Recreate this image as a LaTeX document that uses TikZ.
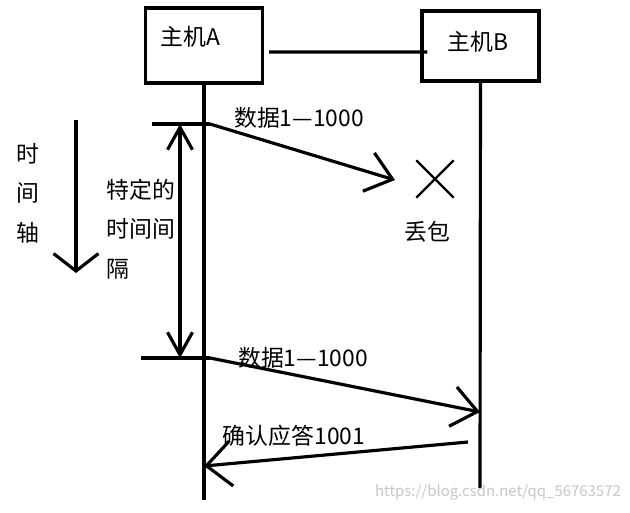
\documentclass[tikz,border=0pt]{standalone}
\usepackage{fontspec}
\setmainfont{Noto Sans CJK SC}
\usetikzlibrary{arrows.meta,shapes.misc}
\tikzset{>={Straight Barb[length=5mm,width=8mm]}}
\tikzset{host/.style={draw,line width=1.8pt,minimum width=2.34cm,inner sep=0pt}}
\tikzset{line/.style={line width=1.8pt}}
\tikzset{txt/.style={font=\fontsize{13}{22.5}\selectfont,inner sep=0pt}}

\begin{document}
\begin{tikzpicture}[x=0.02cm,y=-0.02cm]
  \useasboundingbox (0,0) rectangle (630,512);
  % the two hosts
  \node[host,minimum height=1.5cm] (hostA) at (204,45.5) {};
  \node[host,minimum height=1.4cm] (hostB) at (480.5,46) {};
  \node[txt,anchor=west] (labA) at (160,37) {主机A};
  \node[txt,anchor=west] (labB) at (447,42) {主机B};
  \draw[line] ([shift={(5,6.5)}]hostA.east) -- ([shift={(7,6)}]hostB.west);
  % lifelines
  \coordinate (endA) at (204,500);
  \coordinate (endB) at (480,488);
  \draw[line] (hostA.south) -- (endA);
  \draw[line] (hostB.south) -- (endB);

  % time axis
  \coordinate (tTop) at (76,120);
  \coordinate (tBot) at (76,273);
  \draw[line,->,>={Straight Barb[length=3.5mm,width=9mm]}] (tTop) -- (tBot);
  \node[txt,align=center] (tLab) at (28,193) {时\\间\\轴};

  % retransmission interval
  \coordinate (ivTop) at (152,124);
  \coordinate (ivBot) at (141,358);
  \coordinate (send1) at (210,124);
  \coordinate (send2) at (210,358);
  \coordinate (gapTop) at (180,124);
  \coordinate (gapBot) at (180,358);
  \draw[line] (ivTop) -- (send1);
  \draw[line] (ivBot) -- (send2);
  \draw[line,<->,>={Straight Barb[length=4.5mm,width=5mm]}] (gapTop) -- (gapBot);
  \node[txt,align=left] (gapLab) at (141,229) {特定的\\时间间\\隔};

  % first segment gets lost
  \coordinate (tip1) at (395,180);
  \draw[line,->] (send1) -- (tip1);
  \node[txt] (d1) at (299,118) {数据1—1000};
  \node[cross out,draw,line width=1.4pt,minimum size=0.7cm,inner sep=0pt] (lost) at (435,179) {};
  \node[txt] (lostLab) at (427,232) {丢包};

  % resend and ack
  \coordinate (recv2) at (480,412);
  \draw[line,->] (send2) -- (recv2);
  \node[txt] (d2) at (303,358) {数据1—1000};
  \coordinate (ackB) at (468,442);
  \coordinate (ackA) at (204,466);
  \draw[line,->,>={Straight Barb[length=5mm,width=9mm]}] (ackB) -- (ackA);
  \node[txt] (ack) at (294,436) {确认应答1001};

  \node[font=\fontsize{8.5}{10}\selectfont,text=gray!45] (mark) at (498,492) {https://blog.csdn.net/qq\_56763572};
\end{tikzpicture}
\end{document}
